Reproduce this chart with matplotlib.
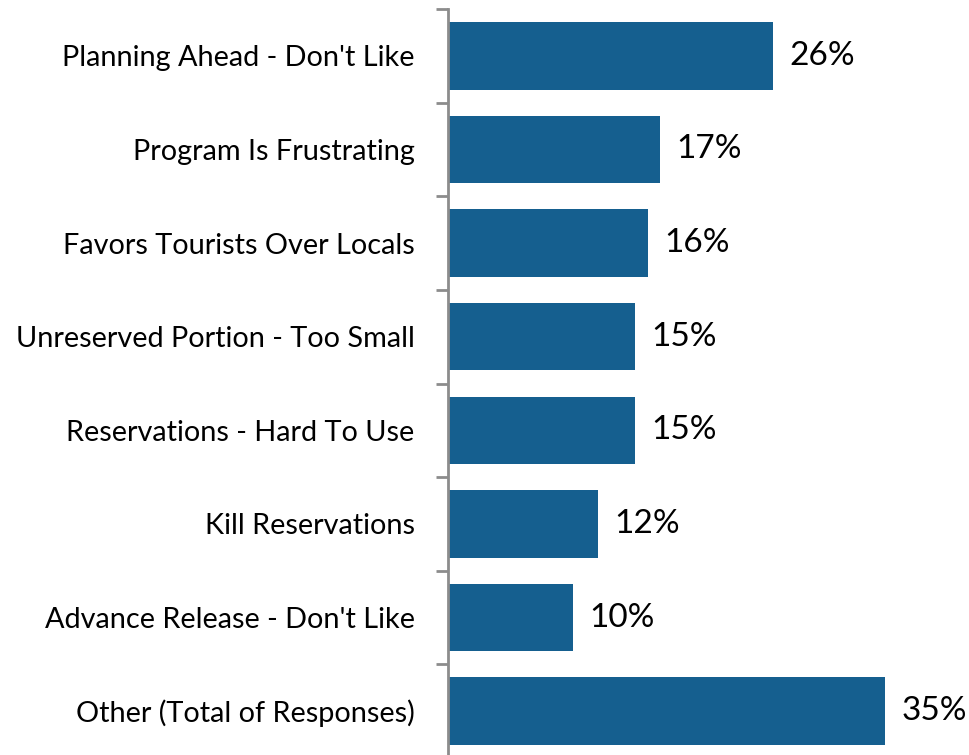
import matplotlib.pyplot as plt
import numpy as np

# Data
categories = ["Planning Ahead - Don't Like", "Program Is Frustrating",
              "Favors Tourists Over Locals", "Unreserved Portion - Too Small",
              "Reservations - Hard To Use", "Kill Reservations",
              "Advance Release - Don't Like", "Other (Total of Responses)"]
values = [26, 17, 16, 15, 15, 12, 10, 35]
value_labels = ["26%", "17%", "16%", "15%", "15%", "12%", "10%", "35%"]

plt.rcParams['font.family'] = ['Lato', 'DejaVu Sans']

fig = plt.figure(figsize=(9.69, 7.55), dpi=100)
ax = fig.add_axes([448 / 969, -3 / 755, 1 - 448 / 969, 749 / 755])

y = np.arange(len(categories))
ax.barh(y, values, height=0.72, color='#155f8f')
for yi, v, lab in zip(y, values, value_labels):
    ax.text(v + 1.3, yi, lab, va='center', ha='left', fontsize=24)

ax.set_ylim(len(categories) - 0.5, -0.5)
ax.set_xlim(0, 41.7)
ax.set_yticks(y)
ax.set_yticklabels(categories, fontsize=20.8)
ax.tick_params(axis='y', which='major', length=0, pad=24)
ax.set_yticks(np.arange(-0.5, len(categories), 1), minor=True)
ax.tick_params(axis='y', which='minor', length=9, width=2, color='#8c8c8c')
ax.set_xticks([])
for s in ['top', 'right', 'bottom']:
    ax.spines[s].set_visible(False)
ax.spines['left'].set_color('#8c8c8c')
ax.spines['left'].set_linewidth(2)

fig.savefig('out.png', dpi=100)
